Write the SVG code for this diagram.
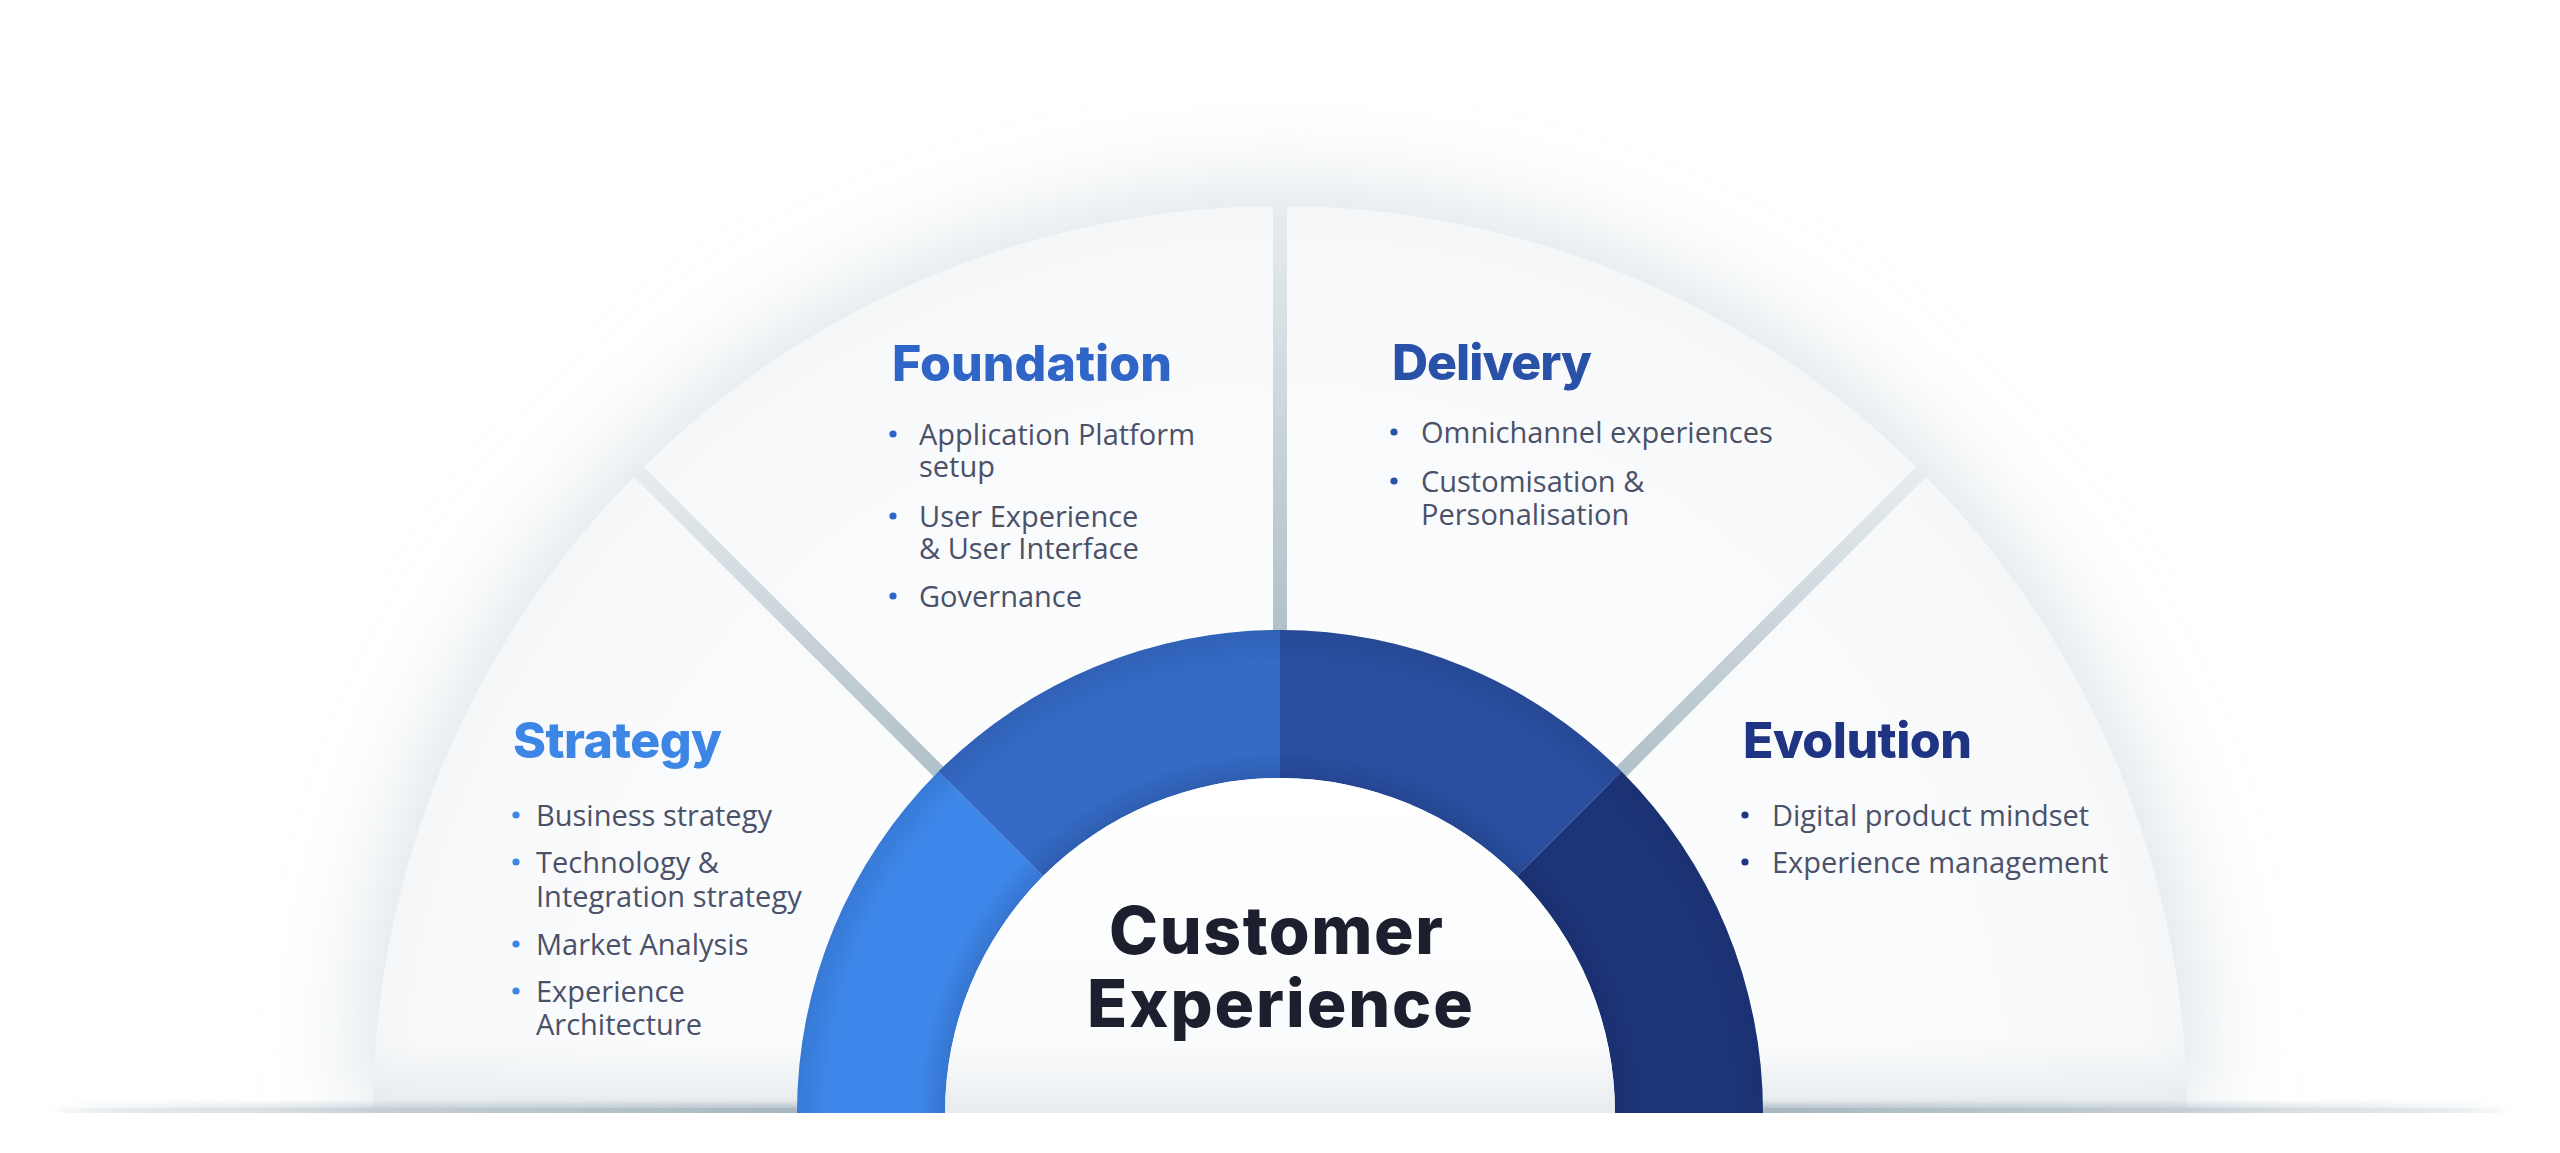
<svg xmlns="http://www.w3.org/2000/svg" width="2560" height="1153" viewBox="0 0 2560 1153">
  <style>
    .h { font-family: Inter, "Open Sans", "Liberation Sans", sans-serif; font-weight: 800; font-size: 50px; }
    .b { font-family: "Open Sans", "Liberation Sans", sans-serif; font-weight: 400; font-size: 29px; fill: #4A5169; }
    .core { font-family: Inter, "Open Sans", "Liberation Sans", sans-serif; font-weight: 800; font-size: 66px; fill: #1B1F2E; }
  </style>
  <defs>
    <clipPath id="above"><rect x="0" y="0" width="2560" height="1113"/></clipPath>
    <clipPath id="arch"><path d="M373,1113 A907,907 0 0 1 2187,1113 Z"/></clipPath>
    <filter id="blur50" x="-30%" y="-50%" width="160%" height="200%"><feGaussianBlur stdDeviation="55"/></filter>
    <filter id="blur3" x="-5%" y="-200%" width="110%" height="500%"><feGaussianBlur stdDeviation="3"/></filter>
    <radialGradient id="sectorFill" gradientUnits="userSpaceOnUse" cx="1280" cy="1113" r="907">
      <stop offset="0" stop-color="#FFFFFF"/>
      <stop offset="0.7" stop-color="#FAFBFC"/>
      <stop offset="0.95" stop-color="#F8F9FA"/>
      <stop offset="1" stop-color="#F4F6F7"/>
    </radialGradient>
    <linearGradient id="bottomFade" x1="0" y1="1040" x2="0" y2="1108" gradientUnits="userSpaceOnUse">
      <stop offset="0" stop-color="#E9EEF1" stop-opacity="0"/>
      <stop offset="1" stop-color="#E6EBEE" stop-opacity="1"/>
    </linearGradient>
    <radialGradient id="divGrad" gradientUnits="userSpaceOnUse" cx="1280" cy="1113" r="907">
      <stop offset="0.5" stop-color="#AEBFC7"/>
      <stop offset="0.7" stop-color="#C3CFD5"/>
      <stop offset="1" stop-color="#E7ECEF"/>
    </radialGradient>
    <linearGradient id="band" x1="40" y1="0" x2="2520" y2="0" gradientUnits="userSpaceOnUse">
      <stop offset="0" stop-color="#D3DBE0" stop-opacity="0"/>
      <stop offset="0.08" stop-color="#DCE3E7"/>
      <stop offset="0.14" stop-color="#C4CFD5"/>
      <stop offset="0.3" stop-color="#A8B7C0"/>
      <stop offset="0.7" stop-color="#A8B7C0"/>
      <stop offset="0.86" stop-color="#C4CFD5"/>
      <stop offset="0.92" stop-color="#DCE3E7"/>
      <stop offset="1" stop-color="#D3DBE0" stop-opacity="0"/>
    </linearGradient>
    <radialGradient id="ringShade" gradientUnits="userSpaceOnUse" cx="1280" cy="1113" r="483">
      <stop offset="0.6936" stop-color="#0A1A40" stop-opacity="0.16"/>
      <stop offset="0.75" stop-color="#0A1A40" stop-opacity="0"/>
      <stop offset="0.93" stop-color="#0A1A40" stop-opacity="0"/>
      <stop offset="1" stop-color="#0A1A40" stop-opacity="0.12"/>
    </radialGradient>
    <linearGradient id="innerFill" x1="0" y1="778" x2="0" y2="1113" gradientUnits="userSpaceOnUse">
      <stop offset="0" stop-color="#FFFFFF"/>
      <stop offset="0.8" stop-color="#FAFBFC"/>
      <stop offset="1" stop-color="#E8ECEF"/>
    </linearGradient>
  </defs>

  <rect width="2560" height="1153" fill="#FFFFFF"/>

  <!-- soft shadow behind the arch -->
  <g id="shadow" clip-path="url(#above)">
    <path d="M373,1113 A907,907 0 0 1 2187,1113 Z" fill="#D0DAE0" filter="url(#blur50)"/>
  </g>

  <!-- base fan -->
  <g id="fan">
    <path d="M373,1113 A907,907 0 0 1 2187,1113 Z" fill="url(#sectorFill)"/>
    <rect x="373" y="1040" width="1814" height="73" fill="url(#bottomFade)" clip-path="url(#arch)"/>
  </g>

  <!-- ground band -->
  <g id="ground" clip-path="url(#above)">
    <rect x="40" y="1104" width="2480" height="14" fill="url(#band)" filter="url(#blur3)" opacity="0.8"/>
    <rect x="60" y="1108" width="2440" height="5" fill="url(#band)"/>
  </g>

  <!-- dividers between sectors -->
  <g id="dividers" clip-path="url(#arch)" stroke="url(#divGrad)" stroke-width="14" fill="none">
    <line x1="1280" y1="640" x2="1280" y2="190"/>
    <line x1="947.7" y1="780.7" x2="630" y2="463"/>
    <line x1="1612.3" y1="780.7" x2="1930" y2="463"/>
  </g>

  <!-- core ring -->
  <g id="core">
    <path d="M797,1113 A483,483 0 0 1 938.47,771.47 L1043.12,876.12 A335,335 0 0 0 945,1113 Z" fill="#3E87EA"/>
    <path d="M938.47,771.47 A483,483 0 0 1 1280,630 L1280,778 A335,335 0 0 0 1043.12,876.12 Z" fill="#356BC6"/>
    <path d="M1280,630 A483,483 0 0 1 1621.53,771.47 L1516.88,876.12 A335,335 0 0 0 1280,778 Z" fill="#2A4FA1"/>
    <path d="M1621.53,771.47 A483,483 0 0 1 1763,1113 L1615,1113 A335,335 0 0 0 1516.88,876.12 Z" fill="#1D3479"/>
    <path d="M797,1113 A483,483 0 0 1 1763,1113 L1615,1113 A335,335 0 0 0 945,1113 Z" fill="url(#ringShade)"/>
    <path d="M945,1113 A335,335 0 0 1 1615,1113 Z" fill="url(#innerFill)"/>
    <text class="core" x="1276" y="954" text-anchor="middle" textLength="334">Customer</text>
    <text class="core" x="1280" y="1027" text-anchor="middle" textLength="386">Experience</text>
  </g>

  <!-- Strategy -->
  <g id="strategy">
    <text class="h" x="513" y="758" fill="#3D86E5" textLength="209">Strategy</text>
    <g fill="#3D86E5">
      <circle cx="516" cy="815" r="3.6"/>
      <circle cx="516" cy="862" r="3.6"/>
      <circle cx="516" cy="944" r="3.6"/>
      <circle cx="516" cy="991" r="3.6"/>
    </g>
    <text class="b" x="536" y="826">Business strategy</text>
    <text class="b" x="536" y="873">Technology &amp;</text>
    <text class="b" x="536" y="907">Integration strategy</text>
    <text class="b" x="536" y="955">Market Analysis</text>
    <text class="b" x="536" y="1002">Experience</text>
    <text class="b" x="536" y="1035">Architecture</text>
  </g>

  <!-- Foundation -->
  <g id="foundation">
    <text class="h" x="892" y="381" fill="#2F65C6" textLength="280">Foundation</text>
    <g fill="#2F65C6">
      <circle cx="893" cy="434" r="3.6"/>
      <circle cx="893" cy="516" r="3.6"/>
      <circle cx="893" cy="596" r="3.6"/>
    </g>
    <text class="b" x="919" y="445">Application Platform</text>
    <text class="b" x="919" y="477">setup</text>
    <text class="b" x="919" y="527">User Experience</text>
    <text class="b" x="919" y="559">&amp; User Interface</text>
    <text class="b" x="919" y="607">Governance</text>
  </g>

  <!-- Delivery -->
  <g id="delivery">
    <text class="h" x="1392" y="380" fill="#2A51A8" textLength="200">Delivery</text>
    <g fill="#2A51A8">
      <circle cx="1394" cy="432" r="3.6"/>
      <circle cx="1394" cy="481" r="3.6"/>
    </g>
    <text class="b" x="1421" y="443">Omnichannel experiences</text>
    <text class="b" x="1421" y="492">Customisation &amp;</text>
    <text class="b" x="1421" y="525">Personalisation</text>
  </g>

  <!-- Evolution -->
  <g id="evolution">
    <text class="h" x="1743" y="758" fill="#1F3483" textLength="229">Evolution</text>
    <g fill="#1F3483">
      <circle cx="1745" cy="815" r="3.6"/>
      <circle cx="1745" cy="862" r="3.6"/>
    </g>
    <text class="b" x="1772" y="826">Digital product mindset</text>
    <text class="b" x="1772" y="873">Experience management</text>
  </g>
</svg>
